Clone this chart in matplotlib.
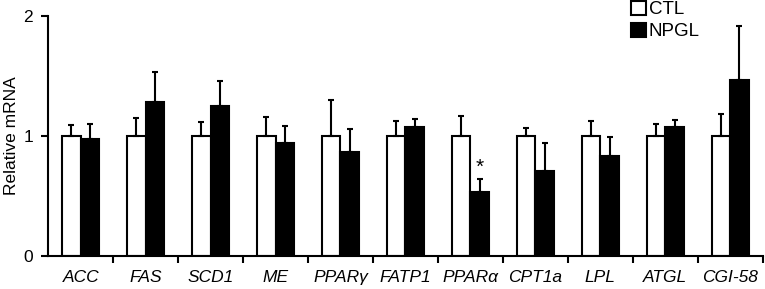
import numpy as np
import matplotlib
matplotlib.use('Agg')
import matplotlib.pyplot as plt

plt.rcParams['font.family'] = ['Liberation Sans', 'DejaVu Sans']

genes = ['ACC', 'FAS', 'SCD1', 'ME', 'PPARγ', 'FATP1', 'PPARα', 'CPT1a', 'LPL', 'ATGL', 'CGI-58']
ctl_mean = [1.0, 1.0, 1.0, 1.0, 1.0, 1.0, 1.0, 1.0, 1.0, 1.0, 1.0]
ctl_err = [0.09, 0.147, 0.117, 0.156, 0.297, 0.122, 0.169, 0.069, 0.128, 0.097, 0.183]
npgl_mean = [0.975, 1.286, 1.25, 0.944, 0.864, 1.078, 0.533, 0.708, 0.836, 1.078, 1.467]
npgl_err = [0.125, 0.25, 0.208, 0.139, 0.194, 0.061, 0.106, 0.236, 0.158, 0.053, 0.45]
signif = ['', '', '', '', '', '', '*', '', '', '', '']

fig = plt.figure(figsize=(7.65, 2.89), dpi=100)
ax = fig.add_axes([0.063, 0.114, 0.934, 0.831])

x = np.arange(len(genes))
w = 0.285
err_kw = dict(ecolor='black', elinewidth=1.5, capsize=2, capthick=1.5)
ax.bar(x - w / 2, ctl_mean, w, color='white', edgecolor='black', linewidth=1.5,
       yerr=[np.zeros(len(genes)), ctl_err], error_kw=err_kw, label='CTL', zorder=2)
ax.bar(x + w / 2, npgl_mean, w, color='black', edgecolor='black', linewidth=1.5,
       yerr=[np.zeros(len(genes)), npgl_err], error_kw=err_kw, label='NPGL', zorder=2)

for i, s in enumerate(signif):
    if s:
        ax.text(x[i] + w / 2, npgl_mean[i] + npgl_err[i] + 0.02, s, ha='center', va='bottom', fontsize=15)

ax.set_xlim(-0.5, len(genes) - 0.5)
ax.set_ylim(0, 2)
ax.set_yticks([0, 1, 2])
ax.set_xticks(x)
ax.set_xticklabels(genes, fontstyle='italic', fontsize=12.5)
ax.set_xticks(np.arange(0.5, len(genes)), minor=True)
ax.tick_params(axis='x', which='major', length=0, pad=10)
ax.tick_params(axis='x', which='minor', length=5, width=1.5, direction='out')
ax.tick_params(axis='y', length=5, width=1.5, labelsize=12.5, pad=6)
ax.set_ylabel('Relative mRNA', fontsize=12.5, va='center')
ax.yaxis.set_label_coords(-0.052, 0.5)

ax.spines['top'].set_visible(False)
ax.spines['right'].set_visible(False)
ax.spines['left'].set_linewidth(1.5)
ax.spines['bottom'].set_linewidth(1.5)

ax.legend(loc='upper left', bbox_to_anchor=(631 / 765, 1 - 1 / 289), bbox_transform=fig.transFigure,
          frameon=False, fontsize=13.5, handlelength=0.8, handleheight=0.75, handletextpad=0.15,
          labelspacing=0.25, borderpad=0, borderaxespad=0)

fig.savefig('out.png', dpi=100)
